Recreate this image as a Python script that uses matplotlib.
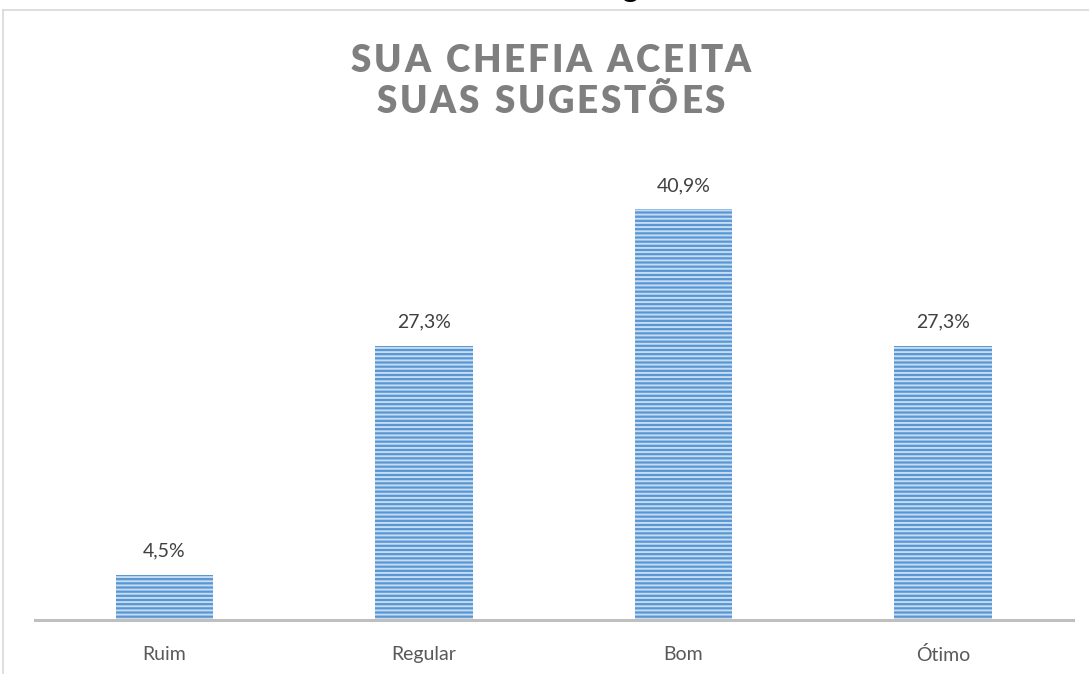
import matplotlib
matplotlib.use('Agg')
import matplotlib.pyplot as plt
from matplotlib.lines import Line2D

# Data
categories = ['Ruim', 'Regular', 'Bom', 'Ótimo']
values = [4.5, 27.3, 40.9, 27.3]
labels = ['4,5%', '27,3%', '40,9%', '27,3%']
title_lines = ['SUA CHEFIA ACEITA', 'SUAS SUGESTÕES']

plt.rcParams['font.family'] = ['Lato', 'DejaVu Sans']
plt.rcParams['hatch.linewidth'] = 1.4

W, H = 1089, 674
fig = plt.figure(figsize=(W / 100, H / 100), dpi=100)
ax = fig.add_axes([34.75 / W, 54 / H, 1038 / W, 470 / H])

x = list(range(len(categories)))
ax.bar(x, values, width=0.374, color='#5896D4', edgecolor='#C6DCF1',
       linewidth=0, hatch='----')

for xi, v, lab in zip(x, values, labels):
    ax.annotate(lab, (xi, v), xytext=(0, 13), textcoords='offset points',
                ha='center', va='baseline', fontsize=14, color='#404040')

ax.set_xlim(-0.5, len(categories) - 0.5)
ax.set_ylim(0, 46.77)
ax.set_xticks(x)
ax.set_xticklabels(categories, fontsize=14, color='#595959')
ax.tick_params(axis='x', length=0, pad=18.5)
ax.set_yticks([])
for s in ['top', 'left', 'right']:
    ax.spines[s].set_visible(False)
ax.spines['bottom'].set_color('#BFBFBF')
ax.spines['bottom'].set_linewidth(2.2)
ax.patch.set_alpha(0)

# chart area border
border = dict(color='#D9D9D9', linewidth=1.2, transform=fig.transFigure)
fig.add_artist(Line2D([3 / W, 1], [1 - 10 / H, 1 - 10 / H], **border))
fig.add_artist(Line2D([3 / W, 3 / W], [0, 1 - 10 / H], **border))

# descender of heading cut off above the chart
fig.text(630 / W, 1 + 3.5 / H, 'g', ha='center', va='baseline', fontsize=21,
         fontweight='heavy', color='black')

# title with wide letter spacing
renderer = fig.canvas.get_renderer()
def spaced_title(s, xc, y_base, tracking, **kw):
    texts = [fig.text(0, 0, c, va='baseline', ha='left', **kw) for c in s]
    widths = []
    for t, c in zip(texts, s):
        if c == ' ':
            t.set_text('n')
            w = t.get_window_extent(renderer).width * 0.5
            t.set_text(' ')
        else:
            w = t.get_window_extent(renderer).width
        widths.append(w)
    total = sum(widths) + tracking * (len(s) - 1)
    xp = xc - total / 2
    for t, w in zip(texts, widths):
        t.set_position((xp / W, y_base))
        xp += w + tracking

title_kw = dict(fontsize=26.5, fontweight='heavy', color='#7F7F7F')
spaced_title(title_lines[0], 551, 1 - 72 / H, 2.6, **title_kw)
spaced_title(title_lines[1], 551, 1 - 113 / H, 2.6, **title_kw)

fig.savefig('out.png', dpi=100, facecolor='white')
